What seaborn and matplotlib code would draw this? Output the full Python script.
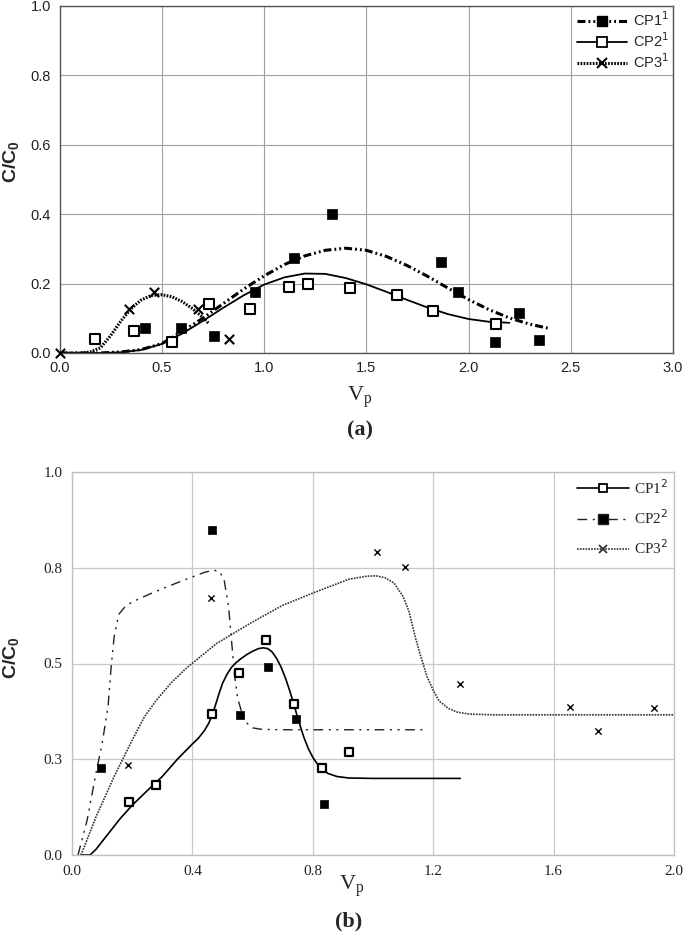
import numpy as np
import pandas as pd
import matplotlib
matplotlib.use('Agg')
import matplotlib.pyplot as plt
import seaborn as sns
from matplotlib.lines import Line2D

# ---------------- panel (a) data ----------------
a_cp1_x = [0.418, 0.595, 0.757, 0.955, 1.149, 1.333, 1.864, 1.947, 2.128, 2.249, 2.343]
a_cp1_y = [0.072, 0.073, 0.049, 0.175, 0.274, 0.402, 0.261, 0.176, 0.031, 0.116, 0.038]
a_cp2_x = [0.175, 0.364, 0.549, 0.732, 0.930, 1.120, 1.213, 1.422, 1.648, 1.827, 2.136]
a_cp2_y = [0.039, 0.063, 0.033, 0.141, 0.126, 0.191, 0.199, 0.188, 0.166, 0.121, 0.083]
a_cp3_x = [0.0, 0.339, 0.461, 0.675, 0.828]
a_cp3_y = [0.0, 0.128, 0.175, 0.127, 0.039]

a_fit1_x = [0, 0.1, 0.2, 0.3, 0.4, 0.5, 0.6, 0.7, 0.8, 0.9, 1.0, 1.1, 1.2, 1.3, 1.4,
            1.5, 1.6, 1.7, 1.8, 1.9, 2.0, 2.1, 2.2, 2.3, 2.4]
a_fit1_y = [0, 0, 0, 0.003, 0.01, 0.027, 0.062, 0.1, 0.142, 0.184, 0.222, 0.255, 0.28,
            0.296, 0.302, 0.296, 0.278, 0.252, 0.221, 0.187, 0.154, 0.125, 0.101, 0.083, 0.07]
a_fit2_x = [0, 0.1, 0.2, 0.3, 0.4, 0.5, 0.6, 0.7, 0.8, 0.9, 1.0, 1.1, 1.2, 1.3, 1.4,
            1.5, 1.6, 1.7, 1.8, 1.9, 2.0, 2.1, 2.2]
a_fit2_y = [0, 0, 0, 0.002, 0.009, 0.026, 0.056, 0.092, 0.13, 0.166, 0.197, 0.218, 0.229,
            0.228, 0.216, 0.198, 0.176, 0.153, 0.131, 0.112, 0.098, 0.09, 0.087]
a_fit3_x = [0, 0.1, 0.15, 0.2, 0.25, 0.3, 0.35, 0.4, 0.45, 0.5, 0.55, 0.6, 0.65, 0.7, 0.73]
a_fit3_y = [0, 0, 0.003, 0.015, 0.05, 0.092, 0.128, 0.153, 0.166, 0.168, 0.162, 0.148,
            0.128, 0.103, 0.085]

a_xticks = [0.0, 0.5, 1.0, 1.5, 2.0, 2.5, 3.0]
a_yticks = [0.0, 0.2, 0.4, 0.6, 0.8, 1.0]

# ---------------- panel (b) data ----------------
b_cp1_x = [0.188, 0.278, 0.464, 0.555, 0.645, 0.737, 0.829, 0.920]
b_cp1_y = [0.139, 0.183, 0.367, 0.475, 0.562, 0.393, 0.227, 0.270]
b_cp2_x = [0.095, 0.466, 0.559, 0.652, 0.745, 0.838]
b_cp2_y = [0.226, 0.848, 0.366, 0.490, 0.355, 0.132]
b_cp3_x = [0.186, 0.463, 1.013, 1.105, 1.288, 1.655, 1.747, 1.932]
b_cp3_y = [0.235, 0.670, 0.790, 0.752, 0.447, 0.386, 0.323, 0.385]

b_fit1_x = [0.03, 0.06, 0.08, 0.1, 0.13, 0.16, 0.2, 0.25, 0.3, 0.35, 0.4, 0.42, 0.44, 0.455,
            0.47, 0.48, 0.49, 0.5, 0.515, 0.53, 0.545, 0.56, 0.58, 0.6, 0.62, 0.635, 0.65,
            0.665, 0.68, 0.695, 0.71, 0.725, 0.74, 0.755, 0.77, 0.785, 0.8, 0.82, 0.85,
            0.88, 0.92, 1.0, 1.1, 1.2, 1.29]
b_fit1_y = [0, 0, 0.015, 0.035, 0.065, 0.095, 0.13, 0.168, 0.205, 0.25, 0.29, 0.305, 0.325,
            0.345, 0.375, 0.4, 0.425, 0.448, 0.472, 0.49, 0.502, 0.512, 0.523, 0.532, 0.539,
            0.541, 0.539, 0.53, 0.513, 0.49, 0.46, 0.425, 0.385, 0.345, 0.308, 0.278, 0.255,
            0.232, 0.213, 0.205, 0.201, 0.2, 0.2, 0.2, 0.2]
b_fit2_x = [0.02, 0.05, 0.08, 0.1, 0.12, 0.13, 0.14, 0.155, 0.18, 0.22, 0.26, 0.3, 0.35, 0.4,
            0.44, 0.47, 0.49, 0.505, 0.52, 0.53, 0.54, 0.55, 0.565, 0.58, 0.6, 0.63, 0.7, 0.8,
            0.9, 1.0, 1.1, 1.18]
b_fit2_y = [0, 0.09, 0.215, 0.29, 0.39, 0.49, 0.57, 0.628, 0.652, 0.668, 0.682, 0.695, 0.711,
            0.726, 0.738, 0.744, 0.74, 0.72, 0.65, 0.56, 0.47, 0.41, 0.37, 0.345, 0.332,
            0.328, 0.327, 0.327, 0.327, 0.327, 0.327, 0.327]
b_fit3_x = [0.03, 0.05, 0.08, 0.1, 0.14, 0.2, 0.24, 0.28, 0.33, 0.38, 0.48, 0.59, 0.7, 0.81,
            0.92, 0.98, 1.01, 1.04, 1.07, 1.1, 1.12, 1.14, 1.16, 1.18, 1.2, 1.22, 1.25, 1.28,
            1.32, 1.4, 1.6, 1.8, 2.0]
b_fit3_y = [0, 0.04, 0.1, 0.135, 0.205, 0.3, 0.36, 0.404, 0.45, 0.488, 0.552, 0.604, 0.652,
            0.687, 0.72, 0.728, 0.729, 0.724, 0.71, 0.675, 0.635, 0.57, 0.515, 0.465, 0.43,
            0.402, 0.383, 0.373, 0.368, 0.366, 0.366, 0.366, 0.366]

b_xticks = [0.0, 0.4, 0.8, 1.2, 1.6, 2.0]
b_yticks = [0.0, 0.25, 0.5, 0.75, 1.0]
b_yticklabels = ['0.0', '0.3', '0.5', '0.8', '1.0']

# ---------------- styling ----------------
sns.set_style('white')
plt.rcParams['font.family'] = ['Liberation Sans', 'DejaVu Sans']

W, H = 685, 933
fig = plt.figure(figsize=(W / 100, H / 100), dpi=100)

ls_a1 = (0, (2.6, 1.0, 0.6, 1.0, 0.6, 1.0))
ls_a3 = (0, (0.55, 0.45))
ls_b2 = (0, (7, 4, 1.5, 4, 1.5, 4))
ls_b3 = (0, (1.0, 0.7))

# ---------------- panel (a) ----------------
ax1 = fig.add_axes([59.5 / W, 1 - 353 / H, (673 - 59.5) / W, (353 - 6) / H])
sns.lineplot(x=a_fit1_x, y=a_fit1_y, ax=ax1, color='black', lw=2.2, linestyle=ls_a1,
             sort=False, estimator=None)
sns.lineplot(x=a_fit2_x, y=a_fit2_y, ax=ax1, color='black', lw=1.3,
             sort=False, estimator=None)
sns.lineplot(x=a_fit3_x, y=a_fit3_y, ax=ax1, color='black', lw=2.2, linestyle=ls_a3,
             sort=False, estimator=None)
sns.scatterplot(x=a_cp1_x, y=a_cp1_y, ax=ax1, marker='s', s=56, color='black',
                edgecolor='black', linewidth=0.5, zorder=5, clip_on=False)
sns.scatterplot(x=a_cp2_x, y=a_cp2_y, ax=ax1, marker='s', s=58, color='white',
                edgecolor='black', linewidth=1.5, zorder=5, clip_on=False)
ax1.scatter(a_cp3_x, a_cp3_y, marker='x', s=45, color='black', linewidths=1.5,
            zorder=5, clip_on=False)

ax1.set_xlim(0, 3.0)
ax1.set_ylim(0, 1.0)
ax1.set_xticks(a_xticks)
ax1.set_yticks(a_yticks)
ax1.set_xticklabels([f'{v:.1f}' for v in a_xticks])
ax1.set_yticklabels([f'{v:.1f}' for v in a_yticks])
ax1.grid(True, color='#a0a0a0', lw=0.8)
ax1.set_axisbelow(True)
for sp in ax1.spines.values():
    sp.set_color('#555555')
    sp.set_linewidth(1.0)
ax1.tick_params(axis='both', length=3, width=0.8, color='#555555', labelsize=10.5,
                pad=3, labelcolor='#222222')
ax1.set_xlabel('')
ax1.set_ylabel('')

h_a = [
    Line2D([], [], color='black', lw=2.2, linestyle=ls_a1, marker='s', ms=7.5, mfc='black'),
    Line2D([], [], color='black', lw=1.3, marker='s', ms=7, mfc='white', mew=1.3),
    Line2D([], [], color='black', lw=2.2, linestyle=ls_a3, marker='x', ms=7, mew=1.5),
]
ax1.legend(h_a, ['CP1$^1$', 'CP2$^1$', 'CP3$^1$'], loc='upper right', frameon=False,
           fontsize=10.5, handlelength=3.4, labelspacing=0.15, handletextpad=0.4,
           borderaxespad=0.1, borderpad=0.2, numpoints=1)

fig.text(11 / W, 1 - 162 / H, 'C/C$\\mathregular{_0}$', rotation=90, ha='center', va='center',
         fontsize=14, fontweight='bold', family=['Liberation Sans'])
fig.text(360 / W, 1 - 397 / H, '$\\mathregular{V_p}$', ha='center', va='center',
         fontsize=16, family=['Liberation Serif'])
fig.text(360 / W, 1 - 430 / H, '(a)', ha='center', va='center', fontsize=16,
         fontweight='bold', family=['Liberation Serif'])

# ---------------- panel (b) ----------------
ax2 = fig.add_axes([72 / W, 1 - 855 / H, (674 - 72) / W, (855 - 472) / H])
sns.lineplot(x=b_fit1_x, y=b_fit1_y, ax=ax2, color='black', lw=1.2,
             sort=False, estimator=None)
sns.lineplot(x=b_fit2_x, y=b_fit2_y, ax=ax2, color='#222222', lw=1.0, linestyle=ls_b2,
             sort=False, estimator=None)
sns.lineplot(x=b_fit3_x, y=b_fit3_y, ax=ax2, color='#333333', lw=1.2, linestyle=ls_b3,
             sort=False, estimator=None)
sns.scatterplot(x=b_cp1_x, y=b_cp1_y, ax=ax2, marker='s', s=38, color='white',
                edgecolor='black', linewidth=1.6, zorder=5)
sns.scatterplot(x=b_cp2_x, y=b_cp2_y, ax=ax2, marker='s', s=40, color='black',
                edgecolor='black', linewidth=0.5, zorder=5)
ax2.scatter(b_cp3_x, b_cp3_y, marker='x', s=20, color='black', linewidths=1.0, zorder=5)

ax2.set_xlim(0, 2.0)
ax2.set_ylim(0, 1.0)
ax2.set_xticks(b_xticks)
ax2.set_yticks(b_yticks)
ax2.set_xticklabels([f'{v:.1f}' for v in b_xticks], family=['Liberation Serif'])
ax2.set_yticklabels(b_yticklabels, family=['Liberation Serif'])
ax2.grid(True, color='#c8c8c8', lw=0.9)
ax2.set_axisbelow(True)
for sp in ax2.spines.values():
    sp.set_color('#c0c0c0')
    sp.set_linewidth(1.0)
ax2.tick_params(axis='both', length=4, width=0.8, color='#c0c0c0', labelsize=11,
                pad=3, labelcolor='#222222')
ax2.set_xlabel('')
ax2.set_ylabel('')

h_b = [
    Line2D([], [], color='black', lw=1.2, marker='s', ms=6, mfc='white', mew=1.3),
    Line2D([], [], color='#222222', lw=1.0, linestyle=ls_b2, marker='s', ms=6.5, mfc='black'),
    Line2D([], [], color='#333333', lw=1.2, linestyle=ls_b3, marker='x', ms=6, mew=1.3),
]
ax2.legend(h_b, ['CP1$^2$', 'CP2$^2$', 'CP3$^2$'], loc='upper right', frameon=False,
           prop={'family': 'Liberation Serif', 'size': 11}, handlelength=3.4,
           labelspacing=0.75, handletextpad=0.3, borderaxespad=0.1, borderpad=0.3,
           numpoints=1)

fig.text(11 / W, 1 - 658 / H, 'C/C$\\mathregular{_0}$', rotation=90, ha='center', va='center',
         fontsize=14, fontweight='bold', family=['Liberation Sans'])
fig.text(352 / W, 1 - 886 / H, '$\\mathregular{V_p}$', ha='center', va='center',
         fontsize=16, family=['Liberation Serif'])
fig.text(349 / W, 1 - 921 / H, '(b)', ha='center', va='center', fontsize=16,
         fontweight='bold', family=['Liberation Serif'])

fig.savefig('out.png', dpi=100)
